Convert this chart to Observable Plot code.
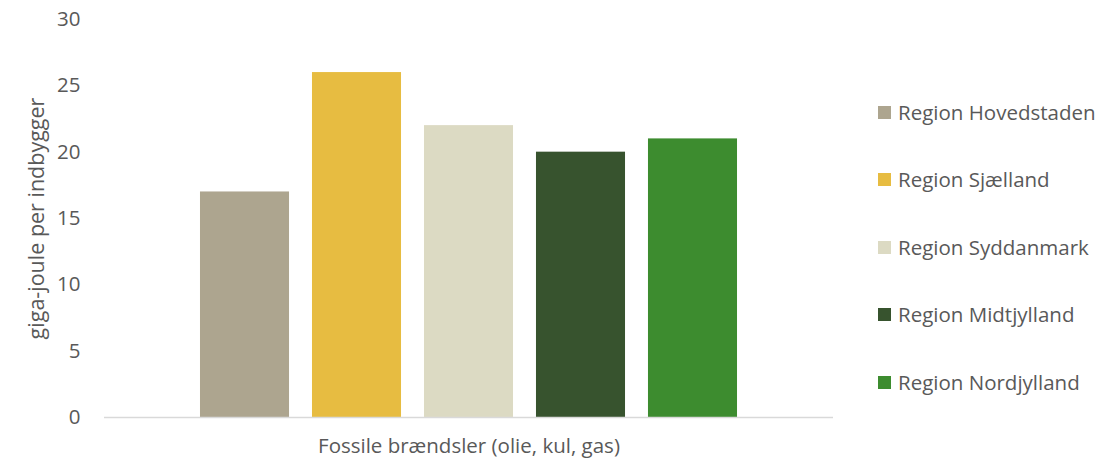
<!DOCTYPE html>
<html>
<head>
<meta charset="utf-8">
<script src="https://cdn.jsdelivr.net/npm/d3@7"></script>
<script src="https://cdn.jsdelivr.net/npm/@observablehq/plot@0.6"></script>
<style>
  html, body { margin: 0; padding: 0; background: #fff; }
  #wrap { position: relative; width: 1120px; height: 459px; font-family: "Open Sans", sans-serif; }
  #legend { position: absolute; left: 878px; top: 0; }
  .item { position: absolute; left: 0; white-space: nowrap; display: flex; align-items: center; color: #595959; font-size: 20.5px; }
  .sw { width: 13px; height: 13px; margin-right: 7px; flex: none; }
</style>
</head>
<body>
<div id="wrap"></div>
<script>
const regions = ["Region Hovedstaden", "Region Sjælland", "Region Syddanmark", "Region Midtjylland", "Region Nordjylland"];
const values = [17, 26, 22, 20, 21];
const colors = ["#ADA58F", "#E7BC41", "#DCDAC3", "#37532E", "#3D8C2F"];
const category = "Fossile brændsler (olie, kul, gas)";
const yTicks = [0, 5, 10, 15, 20, 25, 30];
const yLabel = "giga-joule per indbygger";

const data = regions.map((r, i) => ({region: r, value: values[i]}));

const chart = Plot.plot({
  width: 1120,
  height: 459,
  marginTop: 19,
  marginBottom: 42,
  marginLeft: 104,
  marginRight: 287,
  style: {fontFamily: "'Open Sans', sans-serif", fontSize: "20px", color: "#595959", background: "#fff"},
  x: {domain: regions, paddingInner: 0.205, paddingOuter: 0.857, round: false, axis: null},
  y: {domain: [0, 30], ticks: yTicks, label: null, axis: null},
  color: {domain: regions, range: colors},
  marks: [
    Plot.barY(data, {x: "region", y: "value", fill: "region"}),
    Plot.ruleY([0], {stroke: "#D9D9D9", strokeWidth: 1.5}),
    Plot.axisY({ticks: yTicks, tickSize: 0, tickPadding: 24, label: null, fontSize: 20.5, fill: "#595959"}),
    Plot.text([yLabel], {frameAnchor: "left", textAnchor: "middle", rotate: -90, dx: -67, fontSize: 21.5, fill: "#595959"}),
    Plot.text([category], {frameAnchor: "bottom", dy: 35, fontSize: 20.5, fill: "#595959"})
  ]
});

const wrap = document.getElementById("wrap");
wrap.appendChild(chart);

const legend = document.createElement("div");
legend.id = "legend";
const rowY = [112, 179, 247, 314, 382];
regions.forEach((r, i) => {
  const item = document.createElement("div");
  item.className = "item";
  item.style.top = (rowY[i] - 14) + "px";
  item.style.height = "28px";
  const sw = document.createElement("span");
  sw.className = "sw";
  sw.style.background = colors[i];
  const t = document.createElement("span");
  t.textContent = r;
  item.appendChild(sw);
  item.appendChild(t);
  legend.appendChild(item);
});
wrap.appendChild(legend);
</script>
</body>
</html>
